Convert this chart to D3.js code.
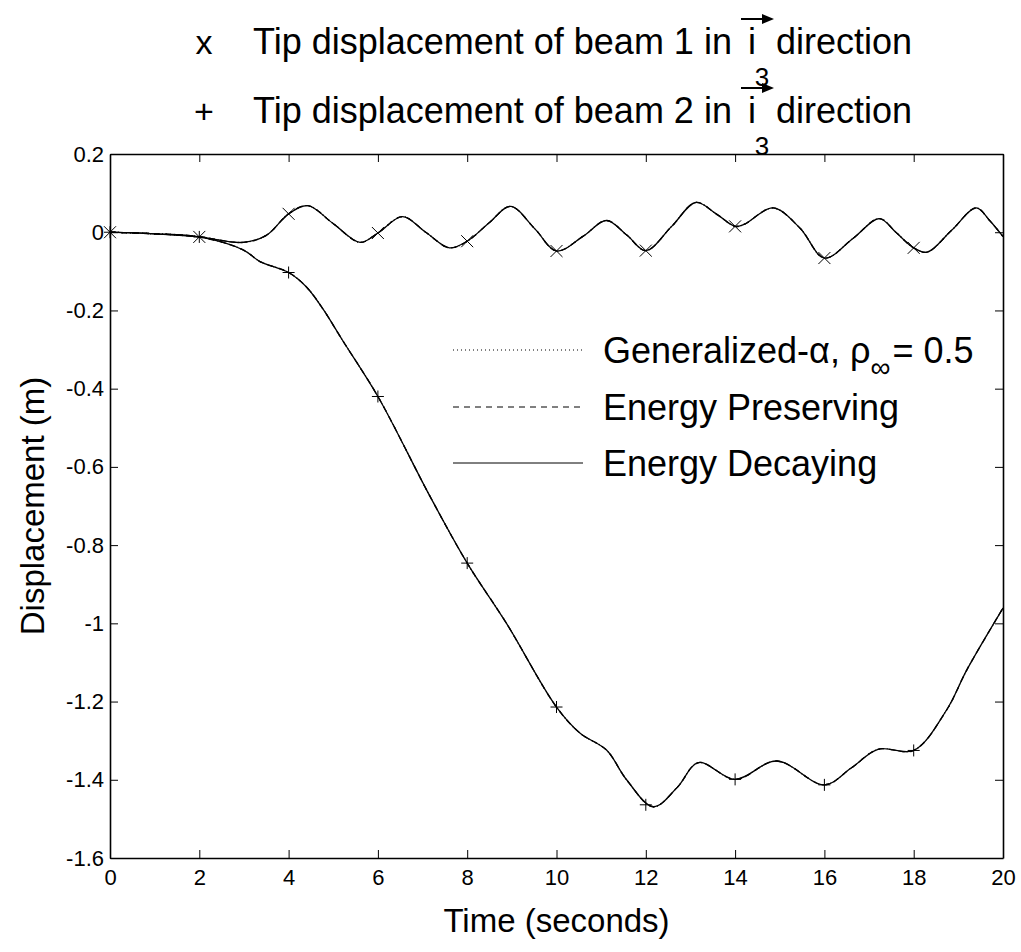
<!DOCTYPE html>
<html>
<head>
<meta charset="utf-8">
<script src="https://cdn.jsdelivr.net/npm/d3@7"></script>
<style>
  body { margin: 0; background: #fff; }
  text { font-family: "Liberation Sans", Arial, Helvetica, sans-serif; fill: #000; }
</style>
</head>
<body>
<svg id="chart" width="1021" height="952"></svg>
<script>
// tip displacement of beam 1 (x markers)
var beam1Time = [0, 1, 2, 2.98, 3.5, 4, 4.43, 5, 5.6, 6, 6.55, 7.07, 7.6, 8, 8.5, 8.97, 9.52, 10, 10.6, 11.12, 11.58, 12, 12.58, 13.12, 13.6, 14, 14.2, 14.85, 15.45, 16, 16.64, 17.23, 17.6, 18, 18.3, 18.85, 19.4, 19.7, 20]
var beam1Disp = [0, -0.004, -0.012, -0.026, -0.008, 0.047, 0.068, 0.022, -0.026, -0.002, 0.04, 0.0, -0.04, -0.023, 0.025, 0.066, 0.008, -0.048, -0.01, 0.03, -0.008, -0.047, 0.015, 0.076, 0.045, 0.015, 0.02, 0.062, 0.011, -0.066, -0.016, 0.035, 0.0, -0.04, -0.051, 0.005, 0.062, 0.03, -0.011]

// tip displacement of beam 2 (+ markers)
var beam2Time = [0, 1, 2, 2.98, 3.36, 4, 4.4, 4.78, 5.2, 6, 7.17, 8, 8.88, 10, 10.53, 11.12, 11.57, 12.17, 12.7, 13.18, 14, 14.93, 16, 16.6, 17.2, 18, 18.74, 19.19, 20]
var beam2Disp = [0, -0.004, -0.012, -0.045, -0.075, -0.103, -0.14, -0.198, -0.275, -0.42, -0.676, -0.846, -1.0, -1.214, -1.281, -1.324, -1.4, -1.469, -1.42, -1.356, -1.399, -1.352, -1.413, -1.37, -1.322, -1.325, -1.221, -1.119, -0.961]

// marker positions
var markerTime = [0, 2, 4, 6, 8, 10, 12, 14, 16, 18]
var beam1Marker = [0, -0.012, 0.047, -0.002, -0.023, -0.048, -0.047, 0.015, -0.066, -0.04]
var beam2Marker = [0, -0.012, -0.103, -0.42, -0.846, -1.214, -1.464, -1.399, -1.413, -1.325]

var xTicks = [0, 2, 4, 6, 8, 10, 12, 14, 16, 18, 20]
var xTickLabels = ["0", "2", "4", "6", "8", "10", "12", "14", "16", "18", "20"]
var yTicks = [0.2, 0, -0.2, -0.4, -0.6, -0.8, -1, -1.2, -1.4, -1.6]
var yTickLabels = ["0.2", "0", "-0.2", "-0.4", "-0.6", "-0.8", "-1", "-1.2", "-1.4", "-1.6"]

var methods = ["Generalized-\u03b1", "Energy Preserving", "Energy Decaying"]
var methodDash = ["1,3", "6,5", null]

var dimensions = {
    width: 1021,
    height: 952,
    margin: { top: 154, bottom: 94, right: 18, left: 110 }
}

var svg = d3.select("#chart")

var xScale = d3.scaleLinear()
    .domain([0, 20])
    .range([dimensions.margin.left, dimensions.width - dimensions.margin.right])

var yScale = d3.scaleLinear()
    .domain([-1.6, 0.2])
    .range([dimensions.height - dimensions.margin.bottom, dimensions.margin.top])

var x0 = xScale(0), x1 = xScale(20), y0 = yScale(-1.6), y1 = yScale(0.2)

// axes, ticks pointing inwards on all four sides
var bottomAxis = d3.axisBottom(xScale)
    .tickValues(xTicks)
    .tickFormat(function(d, i){ return xTickLabels[i] })
    .tickSizeInner(-8).tickSizeOuter(0).tickPadding(11)
var leftAxis = d3.axisLeft(yScale)
    .tickValues(yTicks)
    .tickFormat(function(d, i){ return yTickLabels[i] })
    .tickSizeInner(-8).tickSizeOuter(0).tickPadding(6)

svg.append("g")
    .attr("transform", "translate(0," + y0 + ")")
    .call(bottomAxis)
svg.append("g")
    .attr("transform", "translate(0," + y1 + ")")
    .call(d3.axisTop(xScale).tickValues(xTicks).tickFormat("").tickSizeInner(-8).tickSizeOuter(0))
svg.append("g")
    .attr("transform", "translate(" + x0 + ",0)")
    .call(leftAxis)
svg.append("g")
    .attr("transform", "translate(" + x1 + ",0)")
    .call(d3.axisRight(yScale).tickValues(yTicks).tickFormat("").tickSizeInner(-8).tickSizeOuter(0))

svg.selectAll(".domain").attr("stroke", "#000").attr("stroke-width", 1.6)
svg.selectAll(".tick line").attr("stroke", "#000").attr("stroke-width", 1)
svg.selectAll(".tick text")
    .style("font-family", "'Liberation Sans', Arial, sans-serif")
    .style("font-size", "22px")
    .attr("fill", "#000")

// curves: the three methods give the same response, drawn on top of each other
var lineGen = d3.line()
    .x(function(d){ return xScale(d[0]) })
    .y(function(d){ return yScale(d[1]) })
    .curve(d3.curveCatmullRom.alpha(0.5))

var beam1 = d3.zip(beam1Time, beam1Disp)
var beam2 = d3.zip(beam2Time, beam2Disp)

methods.forEach(function(m, i){
    [beam1, beam2].forEach(function(series){
        svg.append("path")
            .datum(series)
            .attr("fill", "none")
            .attr("stroke", "#000")
            .attr("stroke-width", 1.3)
            .attr("stroke-dasharray", methodDash[i])
            .attr("d", lineGen)
    })
})

var crossPath = "M-6,-6L6,6M-6,6L6,-6"
var plusPath = "M-6,0H6M0,-6V6"

svg.selectAll(".m1")
    .data(d3.zip(markerTime, beam1Marker))
    .enter().append("path")
    .attr("transform", function(d){ return "translate(" + xScale(d[0]) + "," + yScale(d[1]) + ")" })
    .attr("d", crossPath)
    .attr("stroke", "#000").attr("stroke-width", 1).attr("fill", "none")

svg.selectAll(".m2")
    .data(d3.zip(markerTime, beam2Marker))
    .enter().append("path")
    .attr("transform", function(d){ return "translate(" + xScale(d[0]) + "," + yScale(d[1]) + ")" })
    .attr("d", plusPath)
    .attr("stroke", "#000").attr("stroke-width", 1).attr("fill", "none")

// legend inside the axes
var legendY = [350, 407, 463]
var legend = svg.append("g")
methods.forEach(function(m, i){
    legend.append("line")
        .attr("x1", 453).attr("x2", 583)
        .attr("y1", legendY[i]).attr("y2", legendY[i])
        .attr("stroke", "#000").attr("stroke-width", 1)
        .attr("stroke-dasharray", methodDash[i])
})
var gen = legend.append("text")
    .attr("x", 603).attr("y", legendY[0] + 13)
    .style("font-size", "36px")
gen.append("tspan").text("Generalized-\u03b1, \u03c1")
gen.append("tspan").attr("dy", 14).style("font-size", "28px").text("\u221e")
gen.append("tspan").attr("dy", -14).attr("dx", 2).text("= 0.5")
legend.append("text")
    .attr("x", 603).attr("y", legendY[1] + 13)
    .style("font-size", "36px")
    .text(methods[1])
legend.append("text")
    .attr("x", 603).attr("y", legendY[2] + 13)
    .style("font-size", "36px")
    .text(methods[2])

// axis titles
svg.append("text")
    .attr("x", (x0 + x1) / 2)
    .attr("y", 932)
    .attr("text-anchor", "middle")
    .style("font-size", "33px")
    .text("Time (seconds)")

svg.append("text")
    .attr("transform", "translate(44," + ((y0 + y1) / 2) + ") rotate(-90)")
    .attr("text-anchor", "middle")
    .style("font-size", "33px")
    .text("Displacement (m)")

// marker key above the plot
var keyRows = [
    { mark: "x", text: "Tip displacement of beam 1 in", y: 54 },
    { mark: "+", text: "Tip displacement of beam 2 in", y: 123 }
]
keyRows.forEach(function(r){
    svg.append("text")
        .attr("x", 204).attr("y", r.y)
        .attr("text-anchor", "middle")
        .style("font-size", "34px")
        .text(r.mark)
    svg.append("text")
        .attr("x", 253).attr("y", r.y)
        .style("font-size", "36px")
        .text(r.text)
    svg.append("text")
        .attr("x", 752).attr("y", r.y)
        .attr("text-anchor", "middle")
        .style("font-size", "36px")
        .text("i")
    svg.append("line")
        .attr("x1", 741).attr("x2", 764)
        .attr("y1", r.y - 35).attr("y2", r.y - 35)
        .attr("stroke", "#000").attr("stroke-width", 2)
    svg.append("path")
        .attr("d", "M762," + (r.y - 40) + "L774," + (r.y - 35) + "L762," + (r.y - 30) + "Z")
        .attr("fill", "#000")
    svg.append("text")
        .attr("x", 762).attr("y", r.y + 32)
        .attr("text-anchor", "middle")
        .style("font-size", "26px")
        .text("3")
    svg.append("text")
        .attr("x", 776).attr("y", r.y)
        .style("font-size", "36px")
        .text("direction")
})
</script>
</body>
</html>
